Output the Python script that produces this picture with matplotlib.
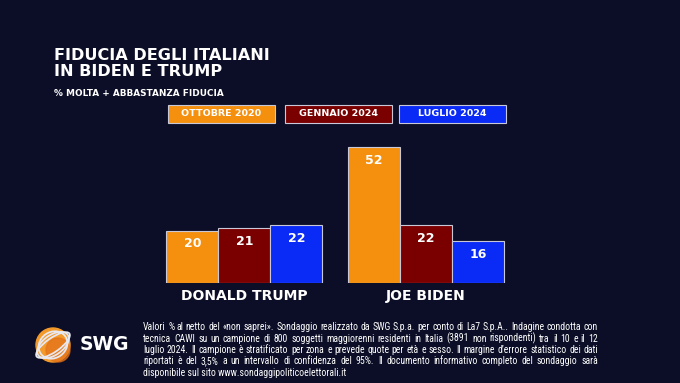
import numpy as np
import matplotlib
matplotlib.use('Agg')
import matplotlib.pyplot as plt
from matplotlib.patches import Rectangle, Circle, Ellipse

# data
candidates = ['DONALD TRUMP', 'JOE BIDEN']
periods = ['OTTOBRE 2020', 'GENNAIO 2024', 'LUGLIO 2024']
ottobre_2020 = [20, 52]
gennaio_2024 = [21, 22]
luglio_2024 = [22, 16]
series = [ottobre_2020, gennaio_2024, luglio_2024]
colors = ['#f5900f', '#7a0000', '#0a2af5']

title = 'FIDUCIA DEGLI ITALIANI\nIN BIDEN E TRUMP'
subtitle = '% MOLTA + ABBASTANZA FIDUCIA'
note_lines = [
    'Valori % al netto del «non saprei». Sondaggio realizzato da SWG S.p.a. per conto di La7 S.p.A.. Indagine condotta con',
    'tecnica CAWI su un campione di 800 soggetti maggiorenni residenti in Italia (3891 non rispondenti) tra il 10 e il 12',
    'luglio 2024. Il campione è stratificato per zona e prevede quote per età e sesso. Il margine d’errore statistico dei dati',
    'riportati è del 3,5% a un intervallo di confidenza del 95%. Il documento informativo completo del sondaggio sarà',
    'disponibile sul sito www.sondaggipoliticoelettorali.it',
]

BG = '#0b0e26'
W, H = 680, 383


def fx(px):
    return px / W


def fy(py):
    return 1 - py / H


fig = plt.figure(figsize=(6.8, 3.83), dpi=100, facecolor=BG)

# bar axes: pixel box x 150..520, y 140..283
ax = fig.add_axes([fx(150), fy(283), fx(370), 143 / H])
ax.set_facecolor(BG)
ax.set_xlim(-1.817, 5.30)
ax.set_ylim(0, 54.7)
ax.axis('off')

group_x = np.array([0, 3.49])
for i, (vals, col) in enumerate(zip(series, colors)):
    xs = group_x + (i - 1)
    bars = ax.bar(xs, vals, width=1.0, color=col, edgecolor='#c8c8d8', linewidth=0.8)
    for x, v in zip(xs, vals):
        ax.annotate(str(v), (x, v), xytext=(0, -13), textcoords='offset pixels',
                    ha='center', va='center', color='white', fontsize=9,
                    fontweight='bold')

for gx, name in zip(group_x, candidates):
    ax.annotate(name, (gx, 0), xytext=(0, -13), textcoords='offset pixels',
                ha='center', va='center', color='white', fontsize=10,
                fontweight='bold', annotation_clip=False)

# titles
fig.text(fx(54), fy(48.5), title, color='white', fontsize=11.6, fontweight='bold',
         va='top', ha='left', linespacing=1.05)
fig.text(fx(54), fy(93), subtitle, color='white', fontsize=6.4, fontweight='bold',
         va='center', ha='left')

# legend boxes
leg_x = [168, 285, 399]
for lx, lab, col in zip(leg_x, periods, colors):
    fig.patches.append(Rectangle((fx(lx), fy(123)), fx(107), 18 / H,
                                 transform=fig.transFigure, facecolor=col,
                                 edgecolor='#c8c8d8', linewidth=0.8))
    fig.text(fx(lx + 53.5), fy(114), lab, color='white', fontsize=6.8,
             fontweight='bold', ha='center', va='center')

# footnote, justified
fig.canvas.draw()
r = fig.canvas.get_renderer()
left, right = 143, 598
note_font = dict(color='white', fontsize=7.0,
                 family=['Liberation Sans Narrow', 'Roboto Condensed', 'DejaVu Sans Condensed',
                         'Liberation Sans', 'DejaVu Sans'])
for k, line in enumerate(note_lines):
    y = fy(327 + k * 11.5)
    if k == len(note_lines) - 1:
        fig.text(fx(left), y, line, va='center', ha='left', **note_font)
        continue
    words = line.split()
    txts = [fig.text(0, y, w, va='center', ha='left', **note_font) for w in words]
    widths = [t.get_window_extent(r).width for t in txts]
    gap = (right - left - sum(widths)) / (len(words) - 1)
    x = left
    for t, w in zip(txts, widths):
        t.set_x(fx(x))
        x += w + gap

# SWG logo
lax = fig.add_axes([fx(28), fy(370), fx(50), 50 / H])
lax.set_xlim(-25, 25)
lax.set_ylim(-25, 25)
lax.set_aspect('equal')
lax.axis('off')
lax.add_patch(Circle((0, 0), 17, color='#f39a2a'))
lax.add_patch(Circle((5, -5), 12, color='#e2701a', alpha=0.7))
for w, h, ang in [(40, 14, 35), (36, 20, 35), (30, 26, 35)]:
    lax.add_patch(Ellipse((0, 0), w, h, angle=ang, fill=False, edgecolor='#e8e8f0',
                          linewidth=1.3))
fig.text(fx(80), fy(344), 'SWG', color='white', fontsize=13.5, fontweight='bold',
         ha='left', va='center')

fig.savefig('out.png', dpi=100, facecolor=BG)
